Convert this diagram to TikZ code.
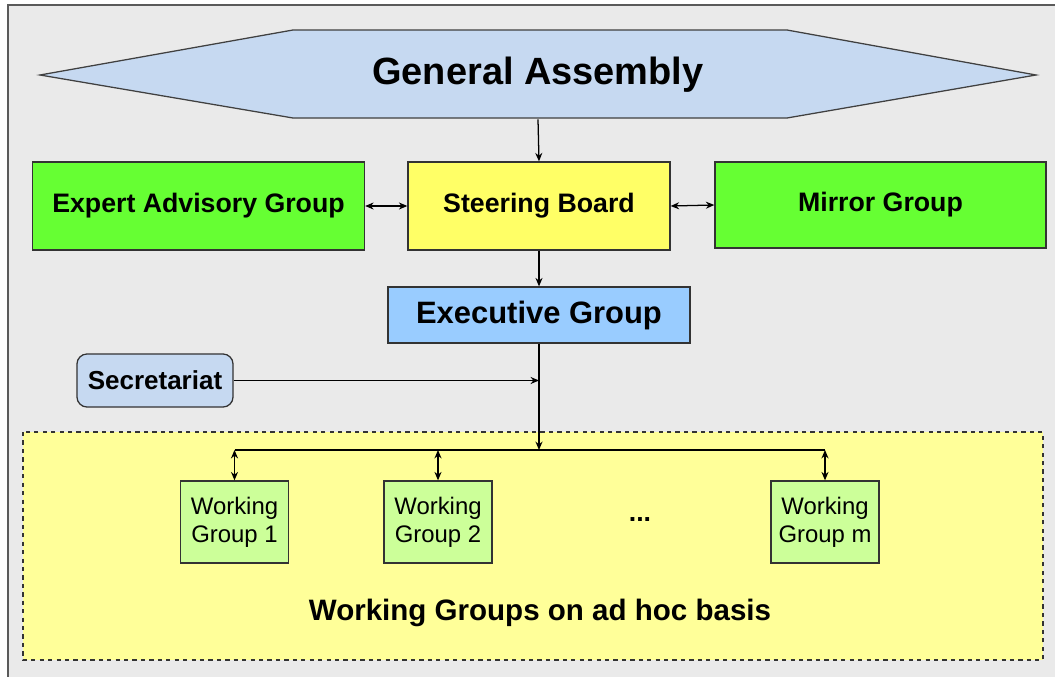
\documentclass[tikz,border=0pt]{standalone}
\usepackage{fontspec}
\setmainfont{Liberation Sans}
\usetikzlibrary{arrows.meta,positioning}

\definecolor{bggray}{HTML}{EAEAEA}
\definecolor{framegray}{HTML}{5A5A5A}
\definecolor{hexblue}{HTML}{C6D9F1}
\definecolor{brightgreen}{HTML}{66FF33}
\definecolor{boardyellow}{HTML}{FFFF66}
\definecolor{execblue}{HTML}{99CCFF}
\definecolor{areayellow}{HTML}{FFFF99}
\definecolor{wggreen}{HTML}{CCFF99}

\tikzset{
  box/.style={draw=black!80, line width=0.9pt, inner sep=0pt, align=center},
  rowbox/.style={box, minimum height=2.2cm, font=\fontsize{19}{22}\selectfont\bfseries},
  wgbox/.style={box, fill=wggreen, minimum width=2.7cm, minimum height=2.05cm,
    font=\fontsize{17}{20}\selectfont},
  link/.style={line width=0.9pt, -{Stealth[length=6pt,width=5pt]}},
  twoway/.style={line width=0.9pt, {Stealth[length=6pt,width=5pt]}-{Stealth[length=6pt,width=5pt]}}
}

\begin{document}
\begin{tikzpicture}[x=0.025cm, y=-0.025cm]
    \useasboundingbox (0,0) rectangle (1055,677);

    % Background with frame on top and left
    \fill[bggray] (8,5) rectangle (1055,677);
    \draw[framegray, line width=1.5pt] (8,677) -- (8,5) -- (1055,5);

    % Area for the working groups
    \draw[fill=areayellow, draw=black!80, dashed, line width=1pt] (23,432) rectangle (1043,660);

    % General Assembly (hexagon)
    \draw[fill=hexblue, draw=black!75, line width=0.9pt]
      (40,75) -- (293,30) -- (787,30) -- (1036,75) -- (787,118) -- (293,118) -- cycle;
    \node (ga) at (538,75) [minimum width=24.9cm, minimum height=2.2cm, inner sep=0pt,
      font=\fontsize{27}{30}\selectfont\bfseries] {General Assembly};

    % Second row
    \node (ea) at (198.5,206) [rowbox, fill=brightgreen, minimum width=8.3cm] {Expert Advisory Group};
    \node (sb) at (539,206) [rowbox, fill=boardyellow, minimum width=6.55cm] {Steering Board};
    \node (mg) at (880.5,205) [rowbox, fill=brightgreen, minimum width=8.275cm, minimum height=2.15cm] {Mirror Group};

    % Executive level
    \node (eg) at (539,315) [box, fill=execblue, minimum width=7.55cm, minimum height=1.4cm,
      font=\fontsize{22}{26}\selectfont\bfseries] {Executive Group};
    \node (sec) at (155,380.5) [box, fill=hexblue, rounded corners=0.25cm, minimum width=3.9cm,
      minimum height=1.325cm, font=\fontsize{18.5}{22}\selectfont\bfseries] {Secretariat};

    % Working groups
    \node (wg1) at (234.5,522) [wgbox] {Working\\Group 1};
    \node (wg2) at (438,522) [wgbox] {Working\\Group 2};
    \node (wgm) at (825,522) [wgbox] {Working\\Group m};
    \node (dots) at (640,520) [font=\fontsize{19}{22}\selectfont\bfseries] {...};
    \node (basis) at (540,613) [font=\fontsize{21}{25}\selectfont\bfseries] {Working Groups on ad hoc basis};

    % Connections
    \coordinate (bus) at (539,450);
    \coordinate (join) at (eg.south |- sec.east);
    \draw[link] (ga.south) -- (sb.north);
    \draw[twoway] (ea.east) -- (sb.west);
    \draw[twoway] (sb.east) -- (mg.west);
    \draw[link] (sb.south) -- (eg.north);
    \draw[link] (eg.south) -- (bus);
    \draw[link] (sec.east) -- (join);
    \draw[line width=0.9pt] (wg1.north |- bus) -- (wgm.north |- bus);
    \foreach \w in {wg1,wg2,wgm}
      \draw[twoway] (\w.north |- bus) -- (\w.north);
\end{tikzpicture}
\end{document}
